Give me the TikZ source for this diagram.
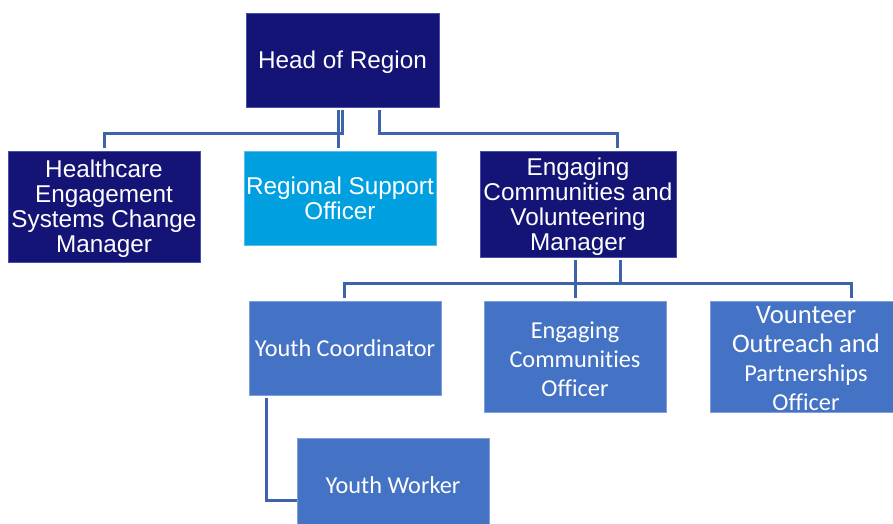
\documentclass[tikz,border=0pt]{standalone}
\usepackage{fontspec}
\setmainfont{Liberation Sans}
\newfontfamily\calfont[Ligatures=NoCommon]{Carlito}
\usetikzlibrary{calc}
\definecolor{navy}{RGB}{19,20,117}
\definecolor{navyedge}{RGB}{70,80,170}
\definecolor{skyblue}{RGB}{0,160,224}
\definecolor{skyedge}{RGB}{90,190,235}
\definecolor{lowblue}{RGB}{68,114,196}
\definecolor{lowedge}{RGB}{130,160,215}
\definecolor{linecol}{RGB}{61,99,170}
\begin{document}
\begin{tikzpicture}[x=1pt,y=-1pt,
  box/.style={rectangle, inner sep=0pt, align=center, text=white, line width=0.6pt},
  topbox/.style={box, fill=navy, draw=navyedge, font=\fontsize{24.3}{25}\selectfont},
  skybox/.style={box, fill=skyblue, draw=skyedge, font=\fontsize{24.3}{25}\selectfont},
  lowbox/.style={box, fill=lowblue, draw=lowedge, font=\calfont\fontsize{24.3}{29}\selectfont},
  conn/.style={draw=linecol, line width=3pt, line join=miter}]
\useasboundingbox (0,0) rectangle (893,524);
\clip (0,0) rectangle (893,524);
\fill[white] (0,0) rectangle (893,524);

\node[topbox, minimum width=193pt, minimum height=94pt] (head) at (342.5,60) {\rule{0pt}{22pt}Head of Region};
\node[topbox, minimum width=192pt, minimum height=111pt] (hc) at (104,206.5) {\rule{0pt}{23pt}Healthcare\\Engagement\\Systems Change\\Manager};
\node[skybox, minimum width=192pt, minimum height=94pt] (rso) at (340,198) {Regional Support\\Officer};
\node[topbox, minimum width=196pt, minimum height=106pt] (ecm) at (578,204) {\rule{0pt}{23pt}Engaging\\Communities and\\Volunteering\\Manager};

\node[lowbox, minimum width=192pt, minimum height=94pt] (yc) at (345,348) {Youth Coordinator};
\node[lowbox, minimum width=182pt, minimum height=111pt] (eco) at (575,356.5) {\rule{0pt}{23pt}Engaging\\Communities\\Officer};
\node[lowbox, minimum width=192pt, minimum height=111pt] (vop) at (806,356.5) {{\fontsize{26.7}{30}\selectfont\rule{0pt}{21pt}Vounteer}\\{\fontsize{26.7}{30}\selectfont Outreach and}\\Partnerships\\Officer};
\node[lowbox, minimum width=192pt, minimum height=94pt] (yw) at (393,485) {Youth Worker};

\coordinate (busA) at (0,133);
\coordinate (busB) at (0,283);

% Head of Region connectors
\coordinate (h1) at ($(head.south)+(0,3)$);
\draw[conn] (h1) -- (h1 |- busA) -| ($(hc.north)+(0,-3)$);
\coordinate (h2) at ($(rso.north |- head.south)+(-2,3)$);
\draw[conn] (h2) -- ($(rso.north)+(-2,-3)$);
\coordinate (h3) at ($(head.south)+(36.5,3)$);
\draw[conn] (h3) -- (h3 |- busA) -| ($(ecm.north)+(39,-3)$);

% Manager connectors
\coordinate (m1) at ($(ecm.south -| eco.north)+(0,3)$);
\draw[conn] (m1) -- ($(eco.north)+(0,-3)$);
\coordinate (m2) at ($(ecm.south)+(42,3)$);
\draw[conn] (m2) -- (m2 |- busB) -| ($(yc.north)+(-1,-3)$);
\draw[conn] (m2 |- busB) -| ($(vop.north)+(45,-3)$);

% Youth Coordinator to Youth Worker
\coordinate (y1) at ($(yc.south west)+(18,3)$);
\draw[conn] (y1) |- ($(yw.west)+(0,15)$);
\end{tikzpicture}
\end{document}
